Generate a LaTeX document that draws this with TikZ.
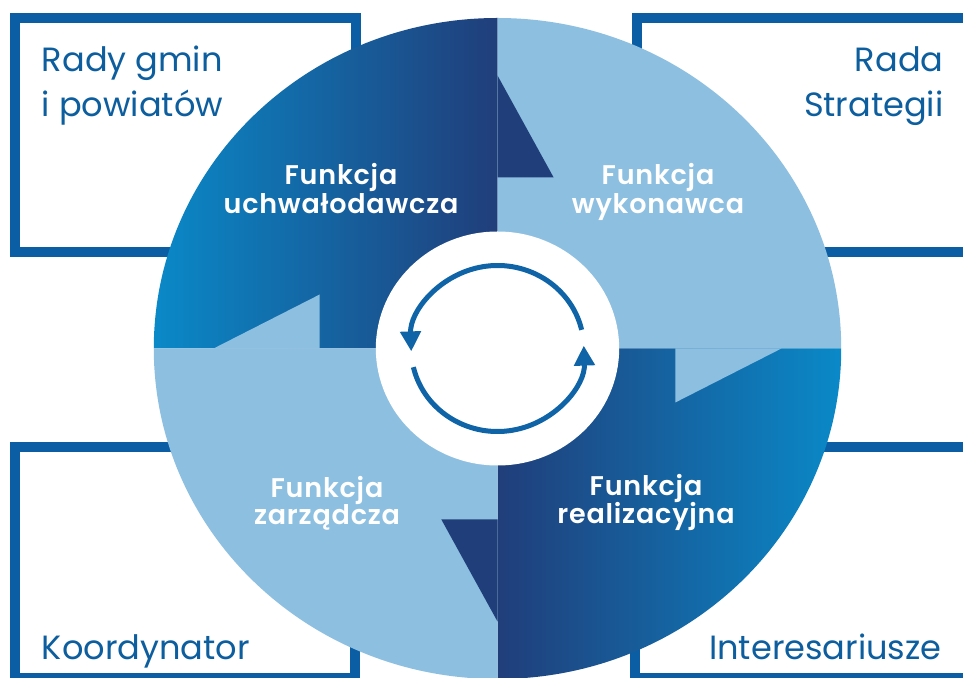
\documentclass[tikz,border=0pt]{standalone}
\usepackage{fontspec}
\setmainfont{Poppins}
\newfontfamily\funcfont[LetterSpace=3]{Poppins SemiBold}
\usetikzlibrary{arrows.meta}
\definecolor{lightq}{HTML}{8DBFE1}
\definecolor{brightq}{HTML}{0A89C8}
\definecolor{navyq}{HTML}{203E7A}
\definecolor{boxblue}{HTML}{0B5EA3}
\definecolor{arrowblue}{HTML}{0E64A7}
\definecolor{labelblue}{HTML}{0D5E9E}
\begin{document}
\begin{tikzpicture}[x=1pt,y=1pt,
  boxframe/.style={draw=boxblue,line width=10pt},
  boxlabel/.style={text=labelblue,font=\fontsize{33.6}{40}\selectfont,inner sep=0pt},
  funclabel/.style={text=white,font=\funcfont\fontsize{27}{30}\selectfont,inner sep=0pt,anchor=base},
  cyclearrow/.style={draw=arrowblue,line width=5pt,-{Triangle[width=20pt,length=20pt]}}]
\useasboundingbox (0,0) rectangle (963,677);
\clip (0,0) rectangle (963,677);
\fill[white] (0,0) rectangle (963,677);

% frames
\draw[boxframe] (15,659) rectangle (356,425);
\draw[boxframe] (637,659) rectangle (1010,425);
\draw[boxframe] (15,230) rectangle (355,-1);
\draw[boxframe] (635,230) rectangle (1010,-1);

% wheel
\begin{scope}[shift={(497.5,328.5)},xscale=1.04]
  \shade[left color=brightq,right color=navyq] (0,0) -- (-330.5,0) arc[start angle=180,end angle=90,radius=330.5] -- cycle;
  \fill[lightq] (0,0) -- (0,330.5) arc[start angle=90,end angle=0,radius=330.5] -- cycle;
  \shade[left color=navyq,right color=brightq] (0,0) -- (330.5,0) arc[start angle=0,end angle=-90,radius=330.5] -- cycle;
  \fill[lightq] (0,0) -- (0,-330.5) arc[start angle=270,end angle=180,radius=330.5] -- cycle;
  % notches
  \fill[navyq] (0,273) -- (54,171) -- (0,171) -- cycle;
  \fill[lightq] (171,0) -- (171,-54) -- (273,0) -- cycle;
  \fill[navyq] (0,-171) -- (-54,-171) -- (0,-273) -- cycle;
  \fill[lightq] (-273,0) -- (-171,54) -- (-171,0) -- cycle;
  % hub
  \fill[white] (0,0) circle (117);
  \coordinate (a1) at (13:83);
  \coordinate (a2) at (193:83);
  \draw[cyclearrow] (a1) arc[start angle=13,end angle=182,radius=83];
  \draw[cyclearrow] (a2) arc[start angle=193,end angle=362,radius=83];
\end{scope}

% box labels
\node[boxlabel,anchor=base west] (rg1) at (41.7,605.3) {Rady gmin};
\node[boxlabel,anchor=base west] (rg2) at (41.7,560.3) {i powiatów};
\node[boxlabel,anchor=base east] (rs1) at (943.7,605.3) {Rada};
\node[boxlabel,anchor=base east] (rs2) at (943.7,560.3) {Strategii};
\node[boxlabel,anchor=base west] (ko) at (41.7,18) {Koordynator};
\node[boxlabel,anchor=base west] (in) at (709,18) {Interesariusze};

% function labels
\node[funclabel] (f1a) at (341,492) {Funkcja};
\node[funclabel] (f1b) at (341,463.7) {uchwałodawcza};
\node[funclabel] (f2a) at (658,492) {Funkcja};
\node[funclabel] (f2b) at (658,463.7) {wykonawca};
\node[funclabel] (f3a) at (327,179) {Funkcja};
\node[funclabel] (f3b) at (327,152) {zarządcza};
\node[funclabel] (f4a) at (646,181) {Funkcja};
\node[funclabel] (f4b) at (646,153) {realizacyjna};
\end{tikzpicture}
\end{document}
